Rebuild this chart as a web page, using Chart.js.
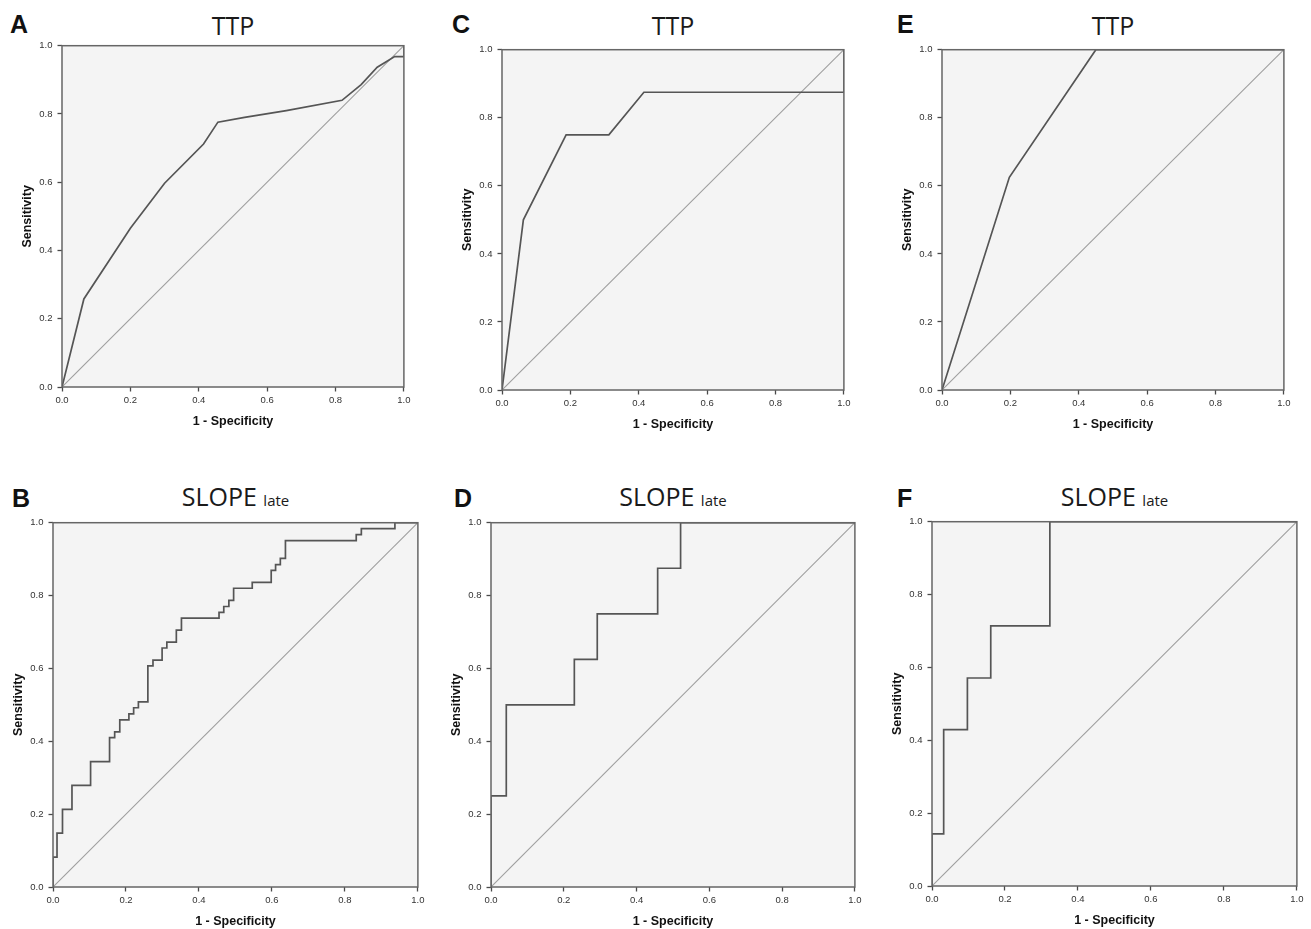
<!DOCTYPE html>
<html>
<head>
<meta charset="utf-8">
<script src="https://cdn.jsdelivr.net/npm/chart.js@4.4.1/dist/chart.umd.min.js"></script>
<style>
html,body{margin:0;padding:0;background:#fff;}
body{width:1311px;height:929px;position:relative;overflow:hidden;}
canvas{position:absolute;}
.letter{position:absolute;font-family:"Liberation Sans",Arial,sans-serif;font-weight:bold;font-size:25px;line-height:25px;color:#111;}
.title{position:absolute;font-family:"Open Sans",sans-serif;font-size:25px;line-height:25px;color:#1a1a1a;white-space:nowrap;transform:translateX(-50%);}
.title .sub{font-size:15px;}
</style>
</head>
<body>
<script>
// ---------------- data ----------------
const tickValues = [0, 0.2, 0.4, 0.6, 0.8, 1.0];
const tickLabels = ['0.0', '0.2', '0.4', '0.6', '0.8', '1.0'];
const xAxisTitle = '1 - Specificity';
const yAxisTitle = 'Sensitivity';
const panelLetters = ['A', 'B', 'C', 'D', 'E', 'F'];
const panelTitles = ['TTP', 'SLOPE', 'TTP', 'SLOPE', 'TTP', 'SLOPE'];
const panelSubtitles = ['', 'late', '', 'late', '', 'late'];
const referenceFpr = [0, 1];
const referenceTpr = [0, 1];

// A: TTP (polyline ROC)
const fprA = [0, 0.064, 0.200, 0.300, 0.414, 0.456, 0.534, 0.656, 0.819, 0.875, 0.922, 0.973, 1.000, 1.000];
const tprA = [0, 0.258, 0.465, 0.597, 0.712, 0.776, 0.790, 0.810, 0.840, 0.886, 0.937, 0.968, 0.968, 1.000];
// C: TTP
const fprC = [0, 0.0625, 0.1875, 0.3125, 0.415, 1.000, 1.000];
const tprC = [0, 0.500, 0.750, 0.750, 0.875, 0.875, 1.000];
// E: TTP
const fprE = [0, 0.197, 0.450, 1.000];
const tprE = [0, 0.625, 1.000, 1.000];

// B: SLOPE late (step ROC: false-positive rate at each jump, sensitivity after jump)
const stepFprB = [0, 0.011, 0.026, 0.052, 0.103, 0.155, 0.169, 0.183, 0.208, 0.221, 0.234, 0.260, 0.274, 0.299, 0.312, 0.338, 0.352, 0.455, 0.468, 0.482, 0.495, 0.546, 0.598, 0.610, 0.623, 0.637, 0.831, 0.845, 0.937];
const stepTprB = [0.082, 0.148, 0.213, 0.279, 0.344, 0.410, 0.426, 0.459, 0.475, 0.492, 0.508, 0.607, 0.623, 0.656, 0.672, 0.705, 0.738, 0.754, 0.770, 0.787, 0.820, 0.836, 0.869, 0.885, 0.902, 0.951, 0.967, 0.984, 1.000];
// D: SLOPE late
const stepFprD = [0, 0.042, 0.229, 0.292, 0.458, 0.521];
const stepTprD = [0.250, 0.500, 0.625, 0.750, 0.875, 1.000];
// F: SLOPE late
const stepFprF = [0, 0.032, 0.097, 0.161, 0.323];
const stepTprF = [0.143, 0.429, 0.571, 0.714, 1.000];

// ---------------- layout (plot-area boxes, label anchors) ----------------
const layoutBoxes = {
  A: {l: 62,  t: 45,  r: 404,  b: 387, lx: 10,  ly: 12,  ty: 13},
  B: {l: 53,  t: 522, r: 418,  b: 887, lx: 12,  ly: 486, ty: 484},
  C: {l: 502, t: 49,  r: 844,  b: 390, lx: 452, ly: 12,  ty: 13},
  D: {l: 491, t: 522, r: 855,  b: 887, lx: 454, ly: 486, ty: 484},
  E: {l: 942, t: 49,  r: 1284, b: 390, lx: 897, ly: 12,  ty: 13},
  F: {l: 932, t: 521, r: 1297, b: 886, lx: 897, ly: 486, ty: 484}
};
const Y_AXIS_W = 62, X_AXIS_H = 50, PAD_T = 10, PAD_R = 10;

// ---------------- helpers ----------------
function polyPoints(fpr, tpr) {
  return fpr.map((x, i) => ({x: x, y: tpr[i]}));
}
function stepPoints(fpr, tpr) {
  const pts = [{x: 0, y: 0}];
  let prev = 0;
  fpr.forEach((x, i) => {
    pts.push({x: x, y: prev});
    pts.push({x: x, y: tpr[i]});
    prev = tpr[i];
  });
  pts.push({x: 1, y: prev});
  return pts;
}
const curves = {
  A: polyPoints(fprA, tprA),
  B: stepPoints(stepFprB, stepTprB),
  C: polyPoints(fprC, tprC),
  D: stepPoints(stepFprD, stepTprD),
  E: polyPoints(fprE, tprE),
  F: stepPoints(stepFprF, stepTprF)
};

const framePlugin = {
  id: 'rocFrame',
  beforeDraw(chart) {
    const {ctx, chartArea: a} = chart;
    ctx.save();
    ctx.fillStyle = '#f4f4f4';
    ctx.fillRect(a.left, a.top, a.right - a.left, a.bottom - a.top);
    ctx.restore();
  },
  afterDraw(chart) {
    const {ctx, chartArea: a} = chart;
    ctx.save();
    ctx.strokeStyle = '#666';
    ctx.lineWidth = 1.5;
    ctx.strokeRect(a.left, a.top, a.right - a.left, a.bottom - a.top);
    ctx.restore();
  }
};

const tickFont = {family: '"Liberation Sans", Arial, sans-serif', size: 9.5};
const titleFont = {family: '"Liberation Sans", Arial, sans-serif', size: 12.5, weight: 'bold'};

function axisOptions(isX) {
  return {
    type: 'linear', min: 0, max: 1,
    afterBuildTicks: s => { s.ticks = tickValues.map(v => ({value: v})); },
    afterFit: s => { if (isX) s.height = X_AXIS_H; else s.width = Y_AXIS_W; },
    grid: {display: true, drawOnChartArea: false, drawTicks: true, tickLength: 4.5, tickColor: '#4a4a4a', tickWidth: 1.3},
    border: {display: false},
    ticks: {
      font: tickFont, color: '#333', padding: isX ? 3.5 : 5, maxRotation: 0, autoSkip: false,
      callback: v => tickLabels[tickValues.indexOf(v)]
    },
    title: {
      display: true, text: isX ? xAxisTitle : yAxisTitle, color: '#111', font: titleFont,
      padding: isX ? {top: 0, bottom: 8} : {top: 20, bottom: 0}
    }
  };
}

panelLetters.forEach((key, idx) => {
  const L = layoutBoxes[key];
  // panel letter
  const lt = document.createElement('div');
  lt.className = 'letter';
  lt.textContent = key;
  lt.style.left = L.lx + 'px';
  lt.style.top = L.ly + 'px';
  document.body.appendChild(lt);
  // panel title
  const tt = document.createElement('div');
  tt.className = 'title';
  tt.textContent = panelTitles[idx];
  if (panelSubtitles[idx]) {
    tt.appendChild(document.createTextNode(' '));
    const s = document.createElement('span');
    s.className = 'sub';
    s.textContent = panelSubtitles[idx];
    tt.appendChild(s);
  }
  tt.style.left = ((L.l + L.r) / 2) + 'px';
  tt.style.top = L.ty + 'px';
  document.body.appendChild(tt);
  // chart canvas
  const W = L.r - L.l + Y_AXIS_W + PAD_R;
  const H = L.b - L.t + PAD_T + X_AXIS_H;
  const cv = document.createElement('canvas');
  cv.width = W; cv.height = H;
  cv.style.width = W + 'px'; cv.style.height = H + 'px';
  cv.style.left = (L.l - Y_AXIS_W) + 'px';
  cv.style.top = (L.t - PAD_T) + 'px';
  document.body.appendChild(cv);

  new Chart(cv, {
    type: 'scatter',
    data: {
      datasets: [
        {data: curves[key], showLine: true, borderColor: '#555', borderWidth: 1.7, pointRadius: 0, tension: 0, fill: false},
        {data: polyPoints(referenceFpr, referenceTpr), showLine: true, borderColor: '#9e9e9e', borderWidth: 1.1, pointRadius: 0, fill: false}
      ]
    },
    options: {
      responsive: false, animation: false, devicePixelRatio: 1,
      layout: {padding: {left: 0, top: PAD_T, right: PAD_R, bottom: 0}},
      plugins: {legend: {display: false}, tooltip: {enabled: false}},
      scales: {x: axisOptions(true), y: axisOptions(false)}
    },
    plugins: [framePlugin]
  });
});
</script>
</body>
</html>
